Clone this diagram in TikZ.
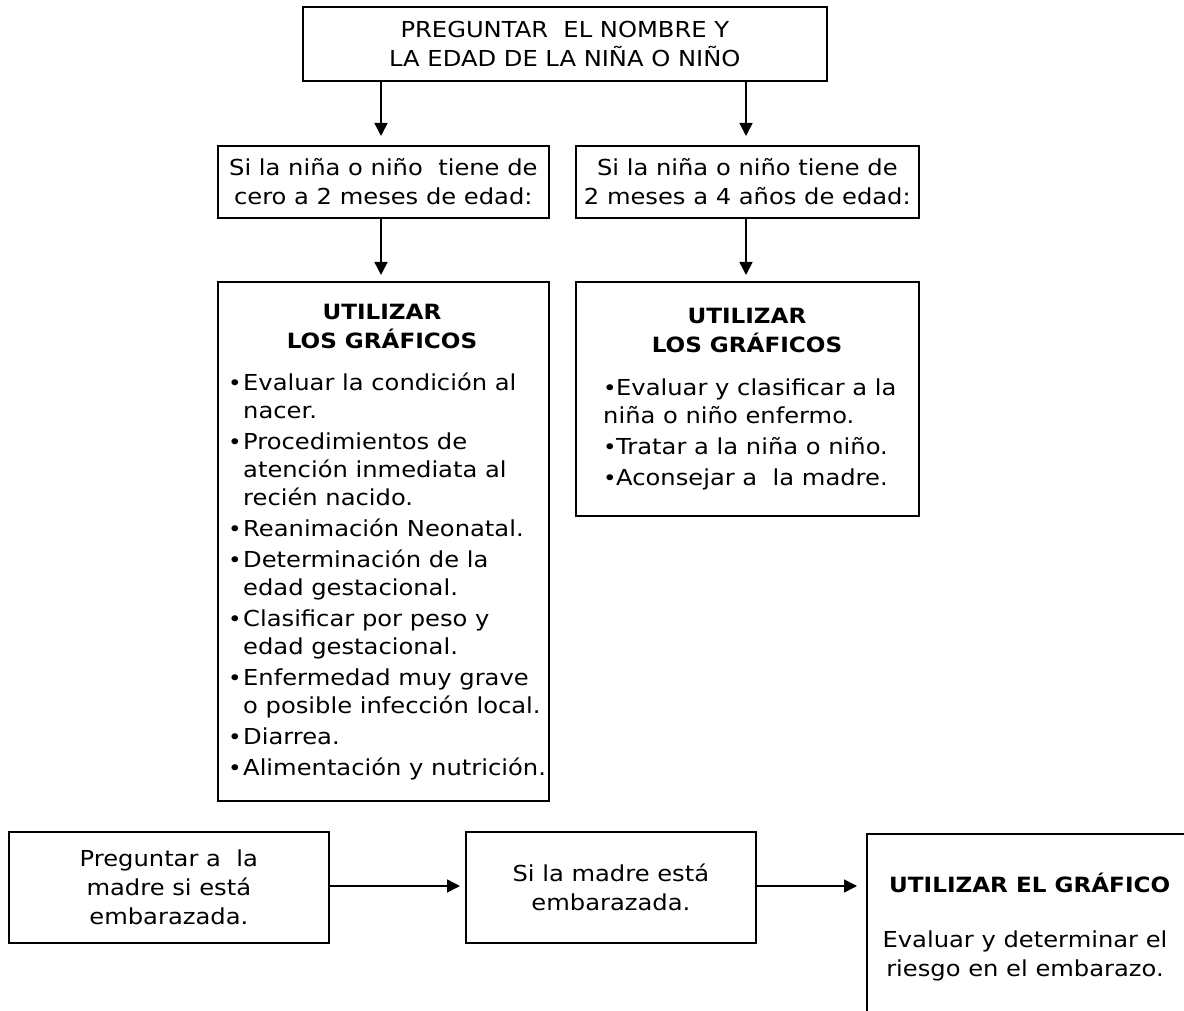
\documentclass[tikz,border=0pt]{standalone}
\usepackage{fontspec}
\setmainfont[FakeStretch=1.1]{DejaVu Sans}
\usetikzlibrary{arrows.meta}
\newcommand{\dotmark}{\raisebox{0.5pt}{\scalebox{0.95}{\textbullet}}}
\newcommand{\bul}{\makebox[15pt][l]{\dotmark}}
\newcommand{\ind}{\hspace*{15pt}}
\begin{document}
\begin{tikzpicture}[x=1pt,y=-1pt,
  box/.style={draw,line width=1.7pt,inner sep=0pt,anchor=north west},
  link/.style={line width=1.5pt,-{Triangle[length=13pt,width=13pt]}},
  txt/.style={font=\fontsize{22}{29}\selectfont,align=center,inner sep=0pt},
  head/.style={font=\fontsize{21}{29}\selectfont\bfseries,align=center,inner sep=0pt},
  items/.style={font=\fontsize{22}{28}\selectfont,align=left,inner sep=0pt,anchor=north west}]
\clip (0,0) rectangle (1184,1011);

% upper chart
\node[box,minimum width=524pt,minimum height=74pt,txt] (top) at (302,6)
  {PREGUNTAR\ \ EL NOMBRE Y\\LA EDAD DE LA NIÑA O NIÑO};
\node[box,minimum width=331pt,minimum height=72pt,txt] (l2) at (217,145)
  {Si la niña o niño\ \ tiene de\\cero a 2 meses de edad:};
\node[box,minimum width=343pt,minimum height=72pt,txt] (r2) at (575,145)
  {Si la niña o niño tiene de\\2 meses a 4 años de edad:};
\node[box,minimum width=331pt,minimum height=519pt] (l3) at (217,281) {};
\node[box,minimum width=343pt,minimum height=234pt] (r3) at (575,281) {};

\node[head] (l3h) at (382,326) {UTILIZAR\\LOS GRÁFICOS};
\node[items] (l3i) at (228,373) {%
\bul Evaluar la condición al\\
\ind nacer.\\[3pt]
\bul Procedimientos de\\
\ind atención inmediata al\\
\ind recién nacido.\\[3pt]
\bul Reanimación Neonatal.\\[3pt]
\bul Determinación de la\\
\ind edad gestacional.\\[3pt]
\bul Clasificar por peso y\\
\ind edad gestacional.\\[3pt]
\bul Enfermedad muy grave\\
\ind o posible infección local.\\[3pt]
\bul Diarrea.\\[3pt]
\bul Alimentación y nutrición.};

\node[head] (r3h) at (747,330) {UTILIZAR\\LOS GRÁFICOS};
\node[items] (r3i) at (603,379) {%
\makebox[13pt][l]{\dotmark}Evaluar y clasificar a la\\
niña o niño enfermo.\\[3pt]
\makebox[13pt][l]{\dotmark}Tratar a la niña o niño.\\[3pt]
\makebox[13pt][l]{\dotmark}Aconsejar a\ \ la madre.};

\draw[link,shorten >=9pt] (top.south -| 381,0) -- (l2.north -| 381,0);
\draw[link,shorten >=9pt] (top.south -| 746,0) -- (r2.north -| 746,0);
\draw[link,shorten >=6pt] (l2.south -| 381,0) -- (l3.north -| 381,0);
\draw[link,shorten >=6pt] (r2.south -| 746,0) -- (r3.north -| 746,0);

% lower chart
\node[box,minimum width=320pt,minimum height=111pt,txt] (b1) at (8,831)
  {Preguntar a\ \ la\\madre si está\\embarazada.};
\node[box,minimum width=290pt,minimum height=111pt,txt] (b2) at (465,831)
  {Si la madre está\\embarazada.};
\node[box,minimum width=340pt,minimum height=200pt] (b3) at (866,833) {};
\node[head,anchor=west] (b3h) at (889,883) {UTILIZAR EL GRÁFICO};
\node[txt] (b3t) at (1025,956) {Evaluar y determinar el\\riesgo en el embarazo.};

\draw[link,shorten >=5pt] (b1.east |- 0,886) -- (b2.west |- 0,886);
\draw[link,shorten >=9pt] (b2.east |- 0,886) -- (b3.west |- 0,886);
\end{tikzpicture}
\end{document}
